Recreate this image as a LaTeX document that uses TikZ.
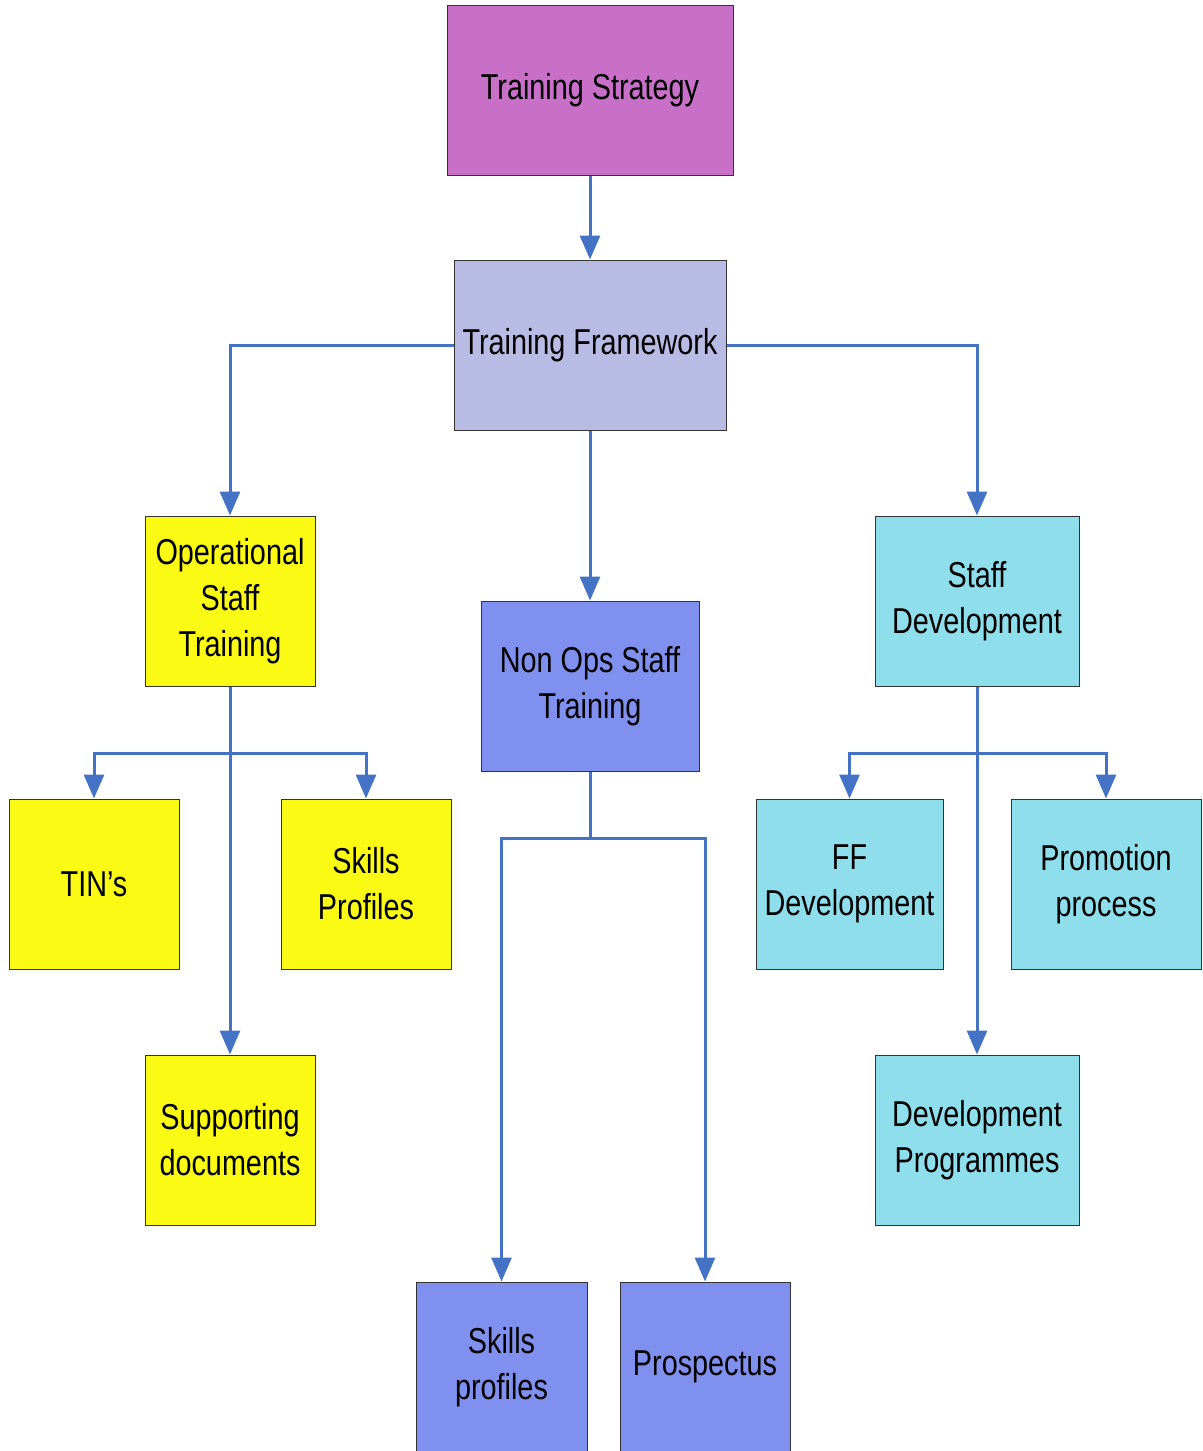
\documentclass[tikz,border=0pt]{standalone}
\usepackage{fontspec}
\setmainfont{Liberation Sans}[FakeStretch=0.8]
\usepackage{tikz}
\usetikzlibrary{arrows.meta,positioning}
\definecolor{stratfill}{RGB}{200,112,200}
\definecolor{framefill}{RGB}{184,188,228}
\definecolor{opsfill}{RGB}{250,250,20}
\definecolor{nonopsfill}{RGB}{128,144,238}
\definecolor{stafffill}{RGB}{142,222,236}
\definecolor{linkblue}{RGB}{68,114,196}
\tikzset
{
    box/.style     = {draw=black!80, line width=0.5pt, align=center, inner sep=0pt, minimum height=85pt, font=\fontsize{18}{23}\selectfont},
    stratbox/.style  = {box, fill=stratfill},
    framebox/.style  = {box, fill=framefill},
    opsbox/.style    = {box, fill=opsfill},
    nonopsbox/.style = {box, fill=nonopsfill},
    staffbox/.style  = {box, fill=stafffill},
    link/.style    = {draw=linkblue, line width=1.5pt}
}
\begin{document}
\begin{tikzpicture}[x=0.5pt,y=-0.5pt,>={Triangle[length=12pt,width=10pt]}]
    \useasboundingbox (0,0) rectangle (1203,1451);
    \node [stratbox, minimum width=143pt] (strat) at (590,90) {Training Strategy};
    \node [framebox, minimum width=136pt] (frame) at (590,345) {Training Framework};
    \node [opsbox, minimum width=85pt] (ops) at (230,601) {Operational\\Staff\\Training};
    \node [nonopsbox, minimum width=109pt] (nonops) at (590,686) {Non Ops Staff\\Training};
    \node [staffbox, minimum width=102pt] (staff) at (977,601) {Staff\\Development};
    \node [opsbox, minimum width=85pt] (tins) at (94,884) {TIN’s};
    \node [opsbox, minimum width=85pt] (skills) at (366,884) {Skills\\Profiles};
    \node [opsbox, minimum width=85pt] (supp) at (230,1140) {Supporting\\documents};
    \node [staffbox, minimum width=93.5pt] (ffdev) at (849.5,884) {FF\\Development};
    \node [staffbox, minimum width=95pt] (promo) at (1106,884) {Promotion\\process};
    \node [staffbox, minimum width=102pt] (devprog) at (977,1140) {Development\\Programmes};
    \node [nonopsbox, minimum width=85.5pt] (skillsprof) at (501.5,1367) {Skills\\profiles};
    \node [nonopsbox, minimum width=85pt] (prosp) at (705,1367) {Prospectus};
    \coordinate (opsjoin) at (230,753);
    \coordinate (nonopsjoin) at (590,838);
    \coordinate (staffjoin) at (977,753);
    \path [link, ->] (strat) -- (frame);
    \path [link, ->] (frame.west) -| (ops);
    \path [link, ->] (frame.east) -| (staff);
    \path [link, ->] (frame) -- (nonops);
    \path [link, ->] (ops) -- (supp);
    \path [link, ->] (opsjoin) -| (tins);
    \path [link, ->] (opsjoin) -| (skills);
    \path [link] (nonops) -- (nonopsjoin);
    \path [link, ->] (nonopsjoin) -| (skillsprof);
    \path [link, ->] (nonopsjoin) -| (prosp);
    \path [link, ->] (staff) -- (devprog);
    \path [link, ->] (staffjoin) -| (ffdev);
    \path [link, ->] (staffjoin) -| (promo);
\end{tikzpicture}
\end{document}
